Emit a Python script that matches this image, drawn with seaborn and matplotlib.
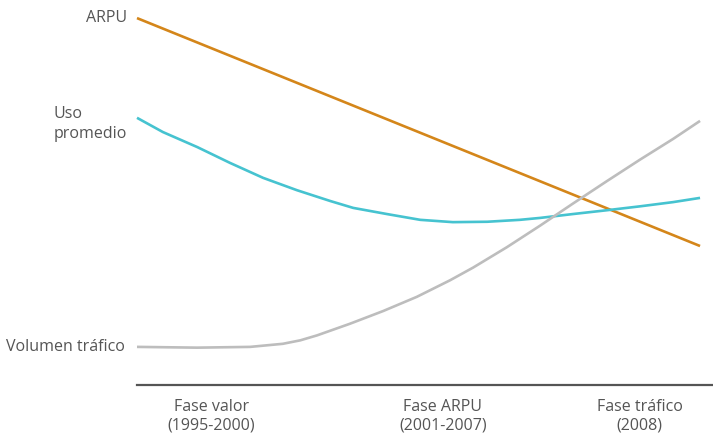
import matplotlib
matplotlib.use("Agg")
import matplotlib.pyplot as plt
import seaborn as sns
import pandas as pd
from matplotlib import font_manager

# Relative index (0-100) along the market timeline
arpu_x = [0, 100]
arpu_y = [95.3, 36.1]

uso_x = [0, 4.6, 10.7, 16.5, 22.4, 28.4, 34.3, 38.4, 44.4, 50.3, 56.1, 62.2,
         68.0, 71.6, 77.4, 83.5, 89.3, 95.2, 100]
uso_y = [69.4, 65.7, 61.8, 57.7, 53.8, 50.6, 47.8, 46.0, 44.4, 42.9, 42.3, 42.4,
         42.9, 43.4, 44.4, 45.4, 46.4, 47.5, 48.6]

vol_x = [0, 10.7, 20.1, 25.9, 29.0, 32.0, 37.8, 43.7, 49.7, 55.6, 59.7, 65.7,
         71.6, 77.4, 83.5, 89.3, 95.2, 100]
vol_y = [9.9, 9.7, 9.9, 10.7, 11.6, 12.9, 15.9, 19.2, 22.9, 27.2, 30.5, 35.8,
         41.4, 47.1, 53.0, 58.5, 63.9, 68.6]

series_names = ["ARPU", "Uso\npromedio", "Volumen tráfico"]
series_colors = ["#d4861a", "#46c3d0", "#bdbdbd"]

phase_pos = [13.2, 54.3, 89.3]
phase_labels = ["Fase valor\n(1995-2000)", "Fase ARPU\n(2001-2007)", "Fase tráfico\n(2008)"]

sns.set_theme(style="white")
installed = {f.name for f in font_manager.fontManager.ttflist}
family = [f for f in ["Liberation Sans Narrow", "Open Sans", "DejaVu Sans"] if f in installed]
plt.rcParams["font.family"] = family

df = pd.concat([
    pd.DataFrame({"x": arpu_x, "y": arpu_y, "serie": series_names[0]}),
    pd.DataFrame({"x": uso_x, "y": uso_y, "serie": series_names[1]}),
    pd.DataFrame({"x": vol_x, "y": vol_y, "serie": series_names[2]}),
])

fig = plt.figure(figsize=(7.13, 4.33), dpi=100)
ax = fig.add_axes([137 / 713, 48 / 433, 576 / 713, 385 / 433])

sns.lineplot(data=df, x="x", y="y", hue="serie", palette=series_colors,
             hue_order=series_names, linewidth=1.9, legend=False, ax=ax,
             estimator=None, sort=False)
for line in ax.lines:
    line.set_clip_on(False)
    line.set_solid_capstyle("butt")
    line.set_solid_joinstyle("round")

ax.set_xlim(0, 102.3)
ax.set_ylim(0, 100)
ax.set_xlabel("")
ax.set_ylabel("")
ax.set_yticks([])
ax.set_xticks(phase_pos)
ax.set_xticklabels(phase_labels, color="#555555", fontsize=11.5, linespacing=1.25)
ax.tick_params(axis="x", length=0, pad=10)

for side in ["top", "right", "left"]:
    ax.spines[side].set_visible(False)
ax.spines["bottom"].set_color("#555555")
ax.spines["bottom"].set_linewidth(1.6)

# Series names at the left end of each line
label_kw = dict(color="#555555", fontsize=11.5, ha="right", va="center",
                transform=ax.transData, clip_on=False)
ax.text(-1.8, arpu_y[0], series_names[0], **label_kw)
ax.text(-1.8, uso_y[0] - 1.6, series_names[1], multialignment="left",
        linespacing=1.35, **label_kw)
ax.text(-2.1, vol_y[0], series_names[2], **label_kw)

fig.savefig("out.png", dpi=100)
